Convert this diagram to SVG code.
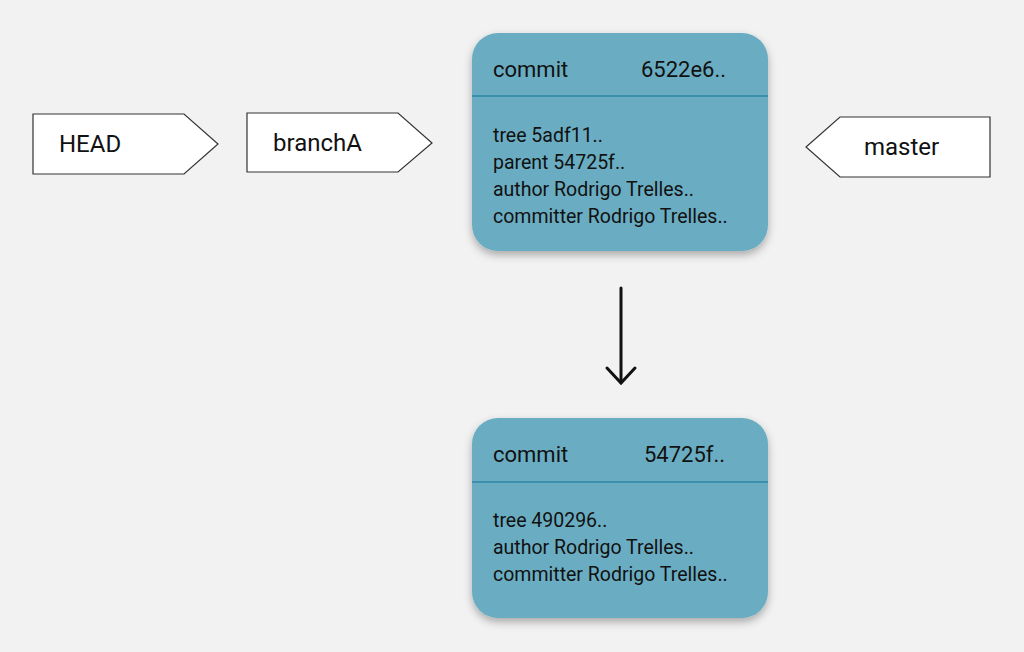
<svg xmlns="http://www.w3.org/2000/svg" width="1024" height="652" viewBox="0 0 1024 652">
<defs>
<style>
.tag{fill:#fff;stroke:#333;stroke-width:1.2}
.lbl{font-family:Roboto,"Liberation Sans",sans-serif;font-size:24px;fill:#111}
.box{fill:#6badc2}
.div{stroke:#3c8fac;stroke-width:2}
.h{font-family:Roboto,"Liberation Sans",sans-serif;font-size:22px;fill:#111}
.t{font-family:Roboto,"Liberation Sans",sans-serif;font-size:19.5px;fill:#111}
</style>
<filter id="sh" x="-10%" y="-10%" width="120%" height="125%"><feDropShadow dx="0" dy="4" stdDeviation="4" flood-color="#000" flood-opacity="0.3"/></filter>
</defs>
<rect width="1024" height="652" fill="#f2f2f2"/>
<g id="HEAD"><polygon class="tag" points="33,114 184,114 218,144 184,174 33,174"/><text class="lbl" x="59" y="152">HEAD</text></g>
<g id="branchA"><polygon class="tag" points="247,113 398,113 432,143 398,172 247,172"/><text class="lbl" x="273" y="151">branchA</text></g>
<g id="master"><polygon class="tag" points="990,117 840,117 806,147 840,177 990,177"/><text class="lbl" x="864" y="155">master</text></g>
<g id="commit1"><rect class="box" x="472" y="33" width="296" height="218" rx="26" filter="url(#sh)"/><line class="div" x1="472" y1="96" x2="768" y2="96"/>
<text class="h" x="493" y="77">commit</text><text class="h" x="641" y="77">6522e6..</text>
<text class="t" x="493" y="142">tree 5adf11..</text><text class="t" x="493" y="169">parent 54725f..</text><text class="t" x="493" y="196">author Rodrigo Trelles..</text><text class="t" x="493" y="223">committer Rodrigo Trelles..</text></g>
<g id="commit2"><rect class="box" x="472" y="418" width="296" height="200" rx="26" filter="url(#sh)"/><line class="div" x1="472" y1="482" x2="768" y2="482"/>
<text class="h" x="493" y="462">commit</text><text class="h" x="644" y="462">54725f..</text>
<text class="t" x="493" y="527">tree 490296..</text><text class="t" x="493" y="554">author Rodrigo Trelles..</text><text class="t" x="493" y="581">committer Rodrigo Trelles..</text></g>
<g id="connectors" fill="none" stroke="#111" stroke-width="3" stroke-linecap="round"><line x1="621" y1="288" x2="621" y2="382"/><polyline points="607,368 621,383 635,368"/></g>
</svg>
